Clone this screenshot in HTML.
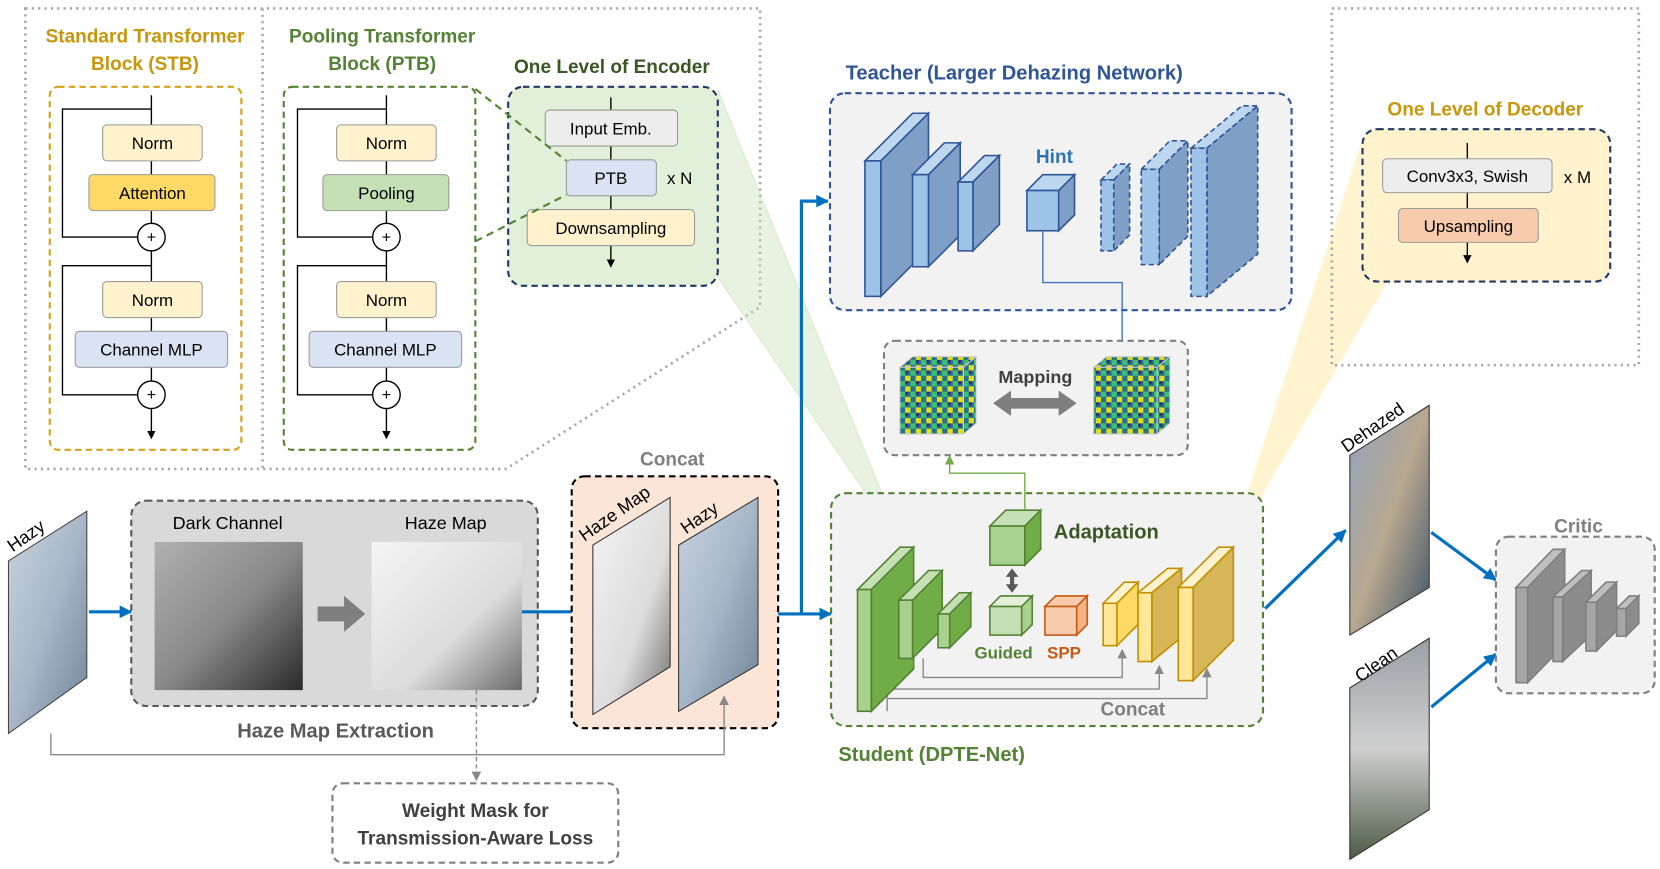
<!DOCTYPE html>
<html><head><meta charset="utf-8"><style>
html,body{margin:0;padding:0;background:#fff;}
svg{display:block;}
text{font-family:"Liberation Sans",sans-serif;}
</style></head><body>
<svg width="1660" height="869" viewBox="0 0 1568 821" preserveAspectRatio="none" xmlns="http://www.w3.org/2000/svg">
<defs>
<marker id="ak" markerWidth="8" markerHeight="8" refX="7" refY="4" orient="auto" markerUnits="userSpaceOnUse"><path d="M0,0 L8,4 L0,8z" fill="#000"/></marker>
<marker id="ab" markerWidth="12" markerHeight="12" refX="11" refY="6" orient="auto" markerUnits="userSpaceOnUse"><path d="M0,0 L12,6 L0,12z" fill="#0070c0"/></marker>
<marker id="ag" markerWidth="9" markerHeight="9" refX="8" refY="4.5" orient="auto" markerUnits="userSpaceOnUse"><path d="M0,0 L9,4.5 L0,9z" fill="#888"/></marker>
<marker id="abl" markerWidth="9" markerHeight="9" refX="8" refY="4.5" orient="auto" markerUnits="userSpaceOnUse"><path d="M0,0 L9,4.5 L0,9z" fill="#4472c4"/></marker>
<marker id="agr" markerWidth="9" markerHeight="9" refX="8" refY="4.5" orient="auto" markerUnits="userSpaceOnUse"><path d="M0,0 L9,4.5 L0,9z" fill="#70ad47"/></marker>
<linearGradient id="hz" x1="0" y1="0" x2="1" y2="1"><stop offset="0" stop-color="#c9d3de"/><stop offset=".5" stop-color="#a7b6c8"/><stop offset="1" stop-color="#6e8296"/></linearGradient>
<linearGradient id="dk" x1="0" y1="0" x2="1" y2="1"><stop offset="0" stop-color="#b0b0b0"/><stop offset=".5" stop-color="#8a8a8a"/><stop offset="1" stop-color="#2a2a2a"/></linearGradient>
<linearGradient id="hm" x1="0" y1="0" x2="1" y2="1"><stop offset="0" stop-color="#f4f4f4"/><stop offset=".6" stop-color="#dcdcdc"/><stop offset="1" stop-color="#6a6a6a"/></linearGradient>
<linearGradient id="dh" x1="0" y1="0" x2="1" y2="1"><stop offset="0" stop-color="#8fa4c0"/><stop offset=".5" stop-color="#b8a890"/><stop offset="1" stop-color="#3b5266"/></linearGradient>
<linearGradient id="cl" x1="0" y1="0" x2="0" y2="1"><stop offset="0" stop-color="#9aa0a6"/><stop offset=".5" stop-color="#d0d0d0"/><stop offset="1" stop-color="#4b5a45"/></linearGradient>
<pattern id="feat" width="10" height="10" patternUnits="userSpaceOnUse"><rect width="10" height="10" fill="#2b6f8e"/><rect width="5" height="5" fill="#3bbf77"/><rect x="5" y="5" width="5" height="5" fill="#d8e020"/><rect x="5" width="3" height="3" fill="#3a2d6e"/></pattern>
</defs>

<path d="M24,8 H718 V290 L478,443 H24 Z" fill="none" stroke="#a6a6a6" stroke-width="2.5" stroke-dasharray="2,4"/>
<line x1="248" y1="8" x2="248" y2="443" stroke="#a6a6a6" stroke-width="2.5" stroke-dasharray="2,4"/>

<text x="137" y="40" font-size="18" font-weight="bold" fill="#c8960a" text-anchor="middle">Standard Transformer</text>
<text x="137" y="66" font-size="18" font-weight="bold" fill="#c8960a" text-anchor="middle">Block (STB)</text>
<rect x="47" y="82" width="181" height="343" rx="8" fill="none" stroke="#d4a017" stroke-width="2" stroke-dasharray="6,4"/>
<g stroke="#000" stroke-width="1.3" fill="none">
<line x1="143" y1="90" x2="143" y2="414" marker-end="url(#ak)"/>
<path d="M143,103 H59 V224 H130"/><path d="M143,251 H59 V373 H130"/>
</g>
<rect x="97" y="118" width="94" height="34" rx="4" fill="#fff2cc" stroke="#999"/>
<text x="144" y="141" font-size="16" text-anchor="middle">Norm</text>
<rect x="84" y="165" width="119" height="34" rx="4" fill="#ffd966" stroke="#999"/>
<text x="144" y="188" font-size="16" text-anchor="middle">Attention</text>
<circle cx="143" cy="224" r="13" fill="#fff" stroke="#000" stroke-width="1.3"/><text x="143" y="229" font-size="15" text-anchor="middle">+</text>
<rect x="97" y="266" width="94" height="34" rx="4" fill="#fff2cc" stroke="#999"/>
<text x="144" y="289" font-size="16" text-anchor="middle">Norm</text>
<rect x="71" y="313" width="144" height="34" rx="4" fill="#dae3f3" stroke="#999"/>
<text x="143" y="336" font-size="16" text-anchor="middle">Channel MLP</text>
<circle cx="143" cy="373" r="13" fill="#fff" stroke="#000" stroke-width="1.3"/><text x="143" y="378" font-size="15" text-anchor="middle">+</text>

<text x="361" y="40" font-size="18" font-weight="bold" fill="#538135" text-anchor="middle">Pooling Transformer</text>
<text x="361" y="66" font-size="18" font-weight="bold" fill="#538135" text-anchor="middle">Block (PTB)</text>
<rect x="268" y="82" width="181" height="343" rx="8" fill="none" stroke="#548235" stroke-width="2" stroke-dasharray="6,4"/>
<g stroke="#000" stroke-width="1.3" fill="none">
<line x1="365" y1="90" x2="365" y2="414" marker-end="url(#ak)"/>
<path d="M365,103 H281 V224 H352"/><path d="M365,251 H281 V373 H352"/>
</g>
<rect x="318" y="118" width="94" height="34" rx="4" fill="#fff2cc" stroke="#999"/>
<text x="365" y="141" font-size="16" text-anchor="middle">Norm</text>
<rect x="305" y="165" width="119" height="34" rx="4" fill="#c5e0b4" stroke="#999"/>
<text x="365" y="188" font-size="16" text-anchor="middle">Pooling</text>
<circle cx="365" cy="224" r="13" fill="#fff" stroke="#000" stroke-width="1.3"/><text x="365" y="229" font-size="15" text-anchor="middle">+</text>
<rect x="318" y="266" width="94" height="34" rx="4" fill="#fff2cc" stroke="#999"/>
<text x="365" y="289" font-size="16" text-anchor="middle">Norm</text>
<rect x="292" y="313" width="144" height="34" rx="4" fill="#dae3f3" stroke="#999"/>
<text x="364" y="336" font-size="16" text-anchor="middle">Channel MLP</text>
<circle cx="365" cy="373" r="13" fill="#fff" stroke="#000" stroke-width="1.3"/><text x="365" y="378" font-size="15" text-anchor="middle">+</text>

<polygon points="678,85 678,262 855,520" fill="#c5e0b4" opacity=".4" stroke="#a9d18e" stroke-width="1.2"/>
<polygon points="1288,130 1310,266 1162,518" fill="#ffe699" opacity=".45" stroke="#ffe699" stroke-width="1.2"/>

<text x="578" y="69" font-size="18" font-weight="bold" fill="#385723" text-anchor="middle">One Level of Encoder</text>
<rect x="480" y="82" width="198" height="188" rx="14" fill="#e2f0d9" stroke="#1f3864" stroke-width="2" stroke-dasharray="6,4"/>
<line x1="577" y1="92" x2="577" y2="252" stroke="#000" stroke-width="1.3" marker-end="url(#ak)"/>
<rect x="515" y="104" width="125" height="34" rx="4" fill="#ededed" stroke="#999"/>
<text x="577" y="127" font-size="16" text-anchor="middle">Input Emb.</text>
<rect x="535" y="151" width="85" height="34" rx="4" fill="#dae3f3" stroke="#999"/>
<text x="577" y="174" font-size="16" text-anchor="middle">PTB</text>
<text x="642" y="174" font-size="16" text-anchor="middle">x N</text>
<rect x="498" y="198" width="158" height="34" rx="4" fill="#fff2cc" stroke="#999"/>
<text x="577" y="221" font-size="16" text-anchor="middle">Downsampling</text>
<line x1="449" y1="84" x2="535" y2="152" stroke="#548235" stroke-width="2" stroke-dasharray="7,5"/>
<line x1="449" y1="228" x2="535" y2="184" stroke="#548235" stroke-width="2" stroke-dasharray="7,5"/>

<text x="958" y="75" font-size="19" font-weight="bold" fill="#2f5597" text-anchor="middle">Teacher (Larger Dehazing Network)</text>
<rect x="784" y="88" width="436" height="205" rx="14" fill="#f2f2f2" stroke="#2f5597" stroke-width="2" stroke-dasharray="6,4"/>
<g stroke="#2f5597" stroke-width="1.5">
<polygon points="817,152 862,107 877,107 832,152" fill="#bdd7ee"/><polygon points="832,152 877,107 877,235 832,280" fill="#7f9fc7"/><rect x="817" y="152" width="15" height="128" fill="#9dc3e6"/>
<polygon points="862,165 892,135 907,135 877,165" fill="#bdd7ee"/><polygon points="877,165 907,135 907,222 877,252" fill="#7f9fc7"/><rect x="862" y="165" width="15" height="87" fill="#9dc3e6"/>
<polygon points="905,172 930,147 944,147 919,172" fill="#bdd7ee"/><polygon points="919,172 944,147 944,212 919,237" fill="#7f9fc7"/><rect x="905" y="172" width="14" height="65" fill="#9dc3e6"/>
<polygon points="970,180 985,165 1015,165 1000,180" fill="#bdd7ee"/><polygon points="1000,180 1015,165 1015,203 1000,218" fill="#7f9fc7"/><rect x="970" y="180" width="30" height="38" fill="#9dc3e6"/>
</g>
<g stroke="#2f5597" stroke-width="1.5" stroke-dasharray="5,3">
<polygon points="1040,170 1055,155 1067,155 1052,170" fill="#bdd7ee"/><polygon points="1052,170 1067,155 1067,222 1052,237" fill="#7f9fc7"/><rect x="1040" y="170" width="12" height="67" fill="#9dc3e6"/>
<polygon points="1078,160 1105,133 1122,133 1095,160" fill="#bdd7ee"/><polygon points="1095,160 1122,133 1122,223 1095,250" fill="#7f9fc7"/><rect x="1078" y="160" width="17" height="90" fill="#9dc3e6"/>
<polygon points="1125,140 1173,100 1188,100 1140,140" fill="#bdd7ee"/><polygon points="1140,140 1188,100 1188,240 1140,280" fill="#7f9fc7"/><rect x="1125" y="140" width="15" height="140" fill="#9dc3e6"/>
</g>
<text x="996" y="154" font-size="18" font-weight="bold" fill="#2f75b6" text-anchor="middle">Hint</text>
<path d="M985,218 V267 H1060 V334" fill="none" stroke="#4472c4" stroke-width="1.3" marker-end="url(#abl)"/>

<rect x="835" y="322" width="287" height="108" rx="10" fill="#f2f2f2" stroke="#7f7f7f" stroke-width="2" stroke-dasharray="6,4"/>
<polygon points="850,347 862,337 922,337 910,347" fill="url(#feat)" stroke="#ccc"/><polygon points="910,347 922,337 922,400 910,410" fill="url(#feat)" stroke="#ccc"/><rect x="850" y="347" width="60" height="63" fill="url(#feat)" stroke="#ccc"/>
<polygon points="1033,347 1045,337 1105,337 1093,347" fill="url(#feat)" stroke="#ccc"/><polygon points="1093,347 1105,337 1105,400 1093,410" fill="url(#feat)" stroke="#ccc"/><rect x="1033" y="347" width="60" height="63" fill="url(#feat)" stroke="#ccc"/>
<text x="978" y="362" font-size="17" font-weight="bold" fill="#404040" text-anchor="middle">Mapping</text>
<polygon points="938,381 955,369 955,376 1000,376 1000,369 1017,381 1000,393 1000,386 955,386 955,393" fill="#7f7f7f"/>

<rect x="1258" y="8" width="290" height="337" fill="none" stroke="#a6a6a6" stroke-width="2.5" stroke-dasharray="2,4"/>
<text x="1403" y="109" font-size="18" font-weight="bold" fill="#c8960a" text-anchor="middle">One Level of Decoder</text>
<rect x="1287" y="122" width="234" height="144" rx="14" fill="#fff2cc" stroke="#1f3864" stroke-width="2" stroke-dasharray="6,4"/>
<line x1="1386" y1="135" x2="1386" y2="248" stroke="#000" stroke-width="1.3" marker-end="url(#ak)"/>
<rect x="1306" y="150" width="160" height="32" rx="4" fill="#ededed" stroke="#999"/>
<text x="1386" y="172" font-size="16" text-anchor="middle">Conv3x3, Swish</text>
<text x="1490" y="173" font-size="16" text-anchor="middle">x M</text>
<rect x="1321" y="197" width="132" height="32" rx="4" fill="#f8cbad" stroke="#999"/>
<text x="1387" y="219" font-size="16" text-anchor="middle">Upsampling</text>

<polygon points="8,530 82,483 82,640 8,693" fill="url(#hz)" stroke="#444"/>
<text x="0" y="0" font-size="17" transform="translate(12,522) rotate(-35)">Hazy</text>
<line x1="84" y1="578" x2="124" y2="578" stroke="#0070c0" stroke-width="3" marker-end="url(#ab)"/>

<rect x="124" y="473" width="384" height="194" rx="14" fill="#d9d9d9" stroke="#595959" stroke-width="2" stroke-dasharray="6,4"/>
<text x="215" y="500" font-size="17" text-anchor="middle">Dark Channel</text>
<rect x="146" y="512" width="140" height="140" fill="url(#dk)"/>
<text x="421" y="500" font-size="17" text-anchor="middle">Haze Map</text>
<rect x="351" y="512" width="142" height="140" fill="url(#hm)"/>
<polygon points="300,573 325,573 325,563 345,580 325,597 325,587 300,587" fill="#7f7f7f"/>
<text x="317" y="697" font-size="19" font-weight="bold" fill="#595959" text-anchor="middle">Haze Map Extraction</text>
<line x1="493" y1="578" x2="557" y2="578" stroke="#0070c0" stroke-width="3" marker-end="url(#ab)"/>

<text x="635" y="440" font-size="18" font-weight="bold" fill="#7f7f7f" text-anchor="middle">Concat</text>
<rect x="540" y="450" width="195" height="238" rx="12" fill="#fbe5d6" stroke="#000" stroke-width="2" stroke-dasharray="6,4"/>
<polygon points="560,515 633,470 633,630 560,675" fill="url(#hm)" stroke="#333"/>
<polygon points="641,515 716,470 716,628 641,672" fill="url(#hz)" stroke="#333"/>
<text font-size="17" transform="translate(552,512) rotate(-35)">Haze Map</text>
<text font-size="17" transform="translate(648,505) rotate(-35)">Hazy</text>

<path d="M48,693 V713 H684 V658" fill="none" stroke="#888" stroke-width="1.3" marker-end="url(#ag)"/>
<line x1="450" y1="652" x2="450" y2="737" stroke="#888" stroke-width="1.3" stroke-dasharray="4,3" marker-end="url(#ag)"/>
<rect x="314" y="740" width="270" height="75" rx="10" fill="#fff" stroke="#7f7f7f" stroke-width="2" stroke-dasharray="6,4"/>
<text x="449" y="772" font-size="18" font-weight="bold" fill="#404040" text-anchor="middle">Weight Mask for</text>
<text x="449" y="798" font-size="18" font-weight="bold" fill="#404040" text-anchor="middle">Transmission-Aware Loss</text>

<path d="M735,580 H757 V190 H782" fill="none" stroke="#0070c0" stroke-width="3" marker-end="url(#ab)"/>
<line x1="757" y1="580" x2="785" y2="580" stroke="#0070c0" stroke-width="3" marker-end="url(#ab)"/>

<rect x="785" y="466" width="408" height="220" rx="14" fill="#f2f2f2" stroke="#548235" stroke-width="2" stroke-dasharray="6,4"/>
<text x="880" y="719" font-size="19" font-weight="bold" fill="#548235" text-anchor="middle">Student (DPTE-Net)</text>
<g fill="none" stroke="#888" stroke-width="1.3">
<path d="M872,622 V640 H1060 V614" marker-end="url(#ag)"/>
<path d="M838,672 V651 H1095 V629" marker-end="url(#ag)"/>
<path d="M838,660 H1140 V632" marker-end="url(#ag)"/>
</g>
<text x="1070" y="676" font-size="18" font-weight="bold" fill="#7f7f7f" text-anchor="middle">Concat</text>
<g stroke="#548235" stroke-width="1.5">
<polygon points="810,557 850,517 863,517 823,557" fill="#c5e0b4"/><polygon points="823,557 863,517 863,632 823,672" fill="#70ad47"/><rect x="810" y="557" width="13" height="115" fill="#a9d18e"/>
<polygon points="849,567 877,539 890,539 862,567" fill="#c5e0b4"/><polygon points="862,567 890,539 890,594 862,622" fill="#70ad47"/><rect x="849" y="567" width="13" height="55" fill="#a9d18e"/>
<polygon points="886,580 906,560 917,560 897,580" fill="#c5e0b4"/><polygon points="897,580 917,560 917,592 897,612" fill="#70ad47"/><rect x="886" y="580" width="11" height="32" fill="#a9d18e"/>
<polygon points="935,497 950,482 983,482 968,497" fill="#c5e0b4"/><polygon points="968,497 983,482 983,519 968,534" fill="#70ad47"/><rect x="935" y="497" width="33" height="37" fill="#a9d18e"/>
<polygon points="935,573 945,563 975,563 965,573" fill="#e2f0d9"/><polygon points="965,573 975,563 975,590 965,600" fill="#a9d18e"/><rect x="935" y="573" width="30" height="27" fill="#c5e0b4"/>
</g>
<g stroke="#c55a11" stroke-width="1.5">
<polygon points="987,573 997,563 1027,563 1017,573" fill="#f8cbad"/><polygon points="1017,573 1027,563 1027,590 1017,600" fill="#f4b183"/><rect x="987" y="573" width="30" height="27" fill="#f8cbad"/>
</g>
<g stroke="#bf9000" stroke-width="1.5">
<polygon points="1042,570 1062,550 1075,550 1055,570" fill="#fff2cc"/><polygon points="1055,570 1075,550 1075,590 1055,610" fill="#ffd966"/><rect x="1042" y="570" width="13" height="40" fill="#ffe699"/>
<polygon points="1075,560 1103,537 1116,537 1088,560" fill="#fff2cc"/><polygon points="1088,560 1116,537 1116,602 1088,625" fill="#d6b656"/><rect x="1075" y="560" width="13" height="65" fill="#ffe699"/>
<polygon points="1113,555 1151,517 1165,517 1127,555" fill="#fff2cc"/><polygon points="1127,555 1165,517 1165,605 1127,643" fill="#d6b656"/><rect x="1113" y="555" width="14" height="88" fill="#ffe699"/>
</g>
<text x="1045" y="509" font-size="19" font-weight="bold" fill="#385723" text-anchor="middle">Adaptation</text>
<text x="948" y="622" font-size="16" font-weight="bold" fill="#548235" text-anchor="middle">Guided</text>
<text x="1005" y="622" font-size="16" font-weight="bold" fill="#c55a11" text-anchor="middle">SPP</text>
<polygon points="956,537 962,545 958,545 958,552 962,552 956,560 950,552 954,552 954,545 950,545" fill="#595959"/>
<path d="M968,481 V447 H897 V431" fill="none" stroke="#70ad47" stroke-width="1.3" marker-end="url(#agr)"/>

<line x1="1195" y1="575" x2="1271" y2="501" stroke="#0070c0" stroke-width="3" marker-end="url(#ab)"/>
<polygon points="1275,430 1350,383 1350,555 1275,600" fill="url(#dh)" stroke="#333"/>
<text font-size="17" transform="translate(1272,428) rotate(-35)">Dehazed</text>
<polygon points="1275,650 1350,603 1350,765 1275,812" fill="url(#cl)" stroke="#333"/>
<text font-size="17" transform="translate(1285,645) rotate(-35)">Clean</text>
<line x1="1352" y1="503" x2="1413" y2="548" stroke="#0070c0" stroke-width="3" marker-end="url(#ab)"/>
<line x1="1352" y1="668" x2="1413" y2="618" stroke="#0070c0" stroke-width="3" marker-end="url(#ab)"/>

<text x="1491" y="503" font-size="18" font-weight="bold" fill="#7f7f7f" text-anchor="middle">Critic</text>
<rect x="1413" y="507" width="150" height="148" rx="12" fill="#f2f2f2" stroke="#7f7f7f" stroke-width="2" stroke-dasharray="6,4"/>
<g stroke="#7f7f7f" stroke-width="1.5">
<polygon points="1432,555 1467,519 1478,519 1443,555" fill="#bfbfbf"/><polygon points="1443,555 1478,519 1478,609 1443,645" fill="#8c8c8c"/><rect x="1432" y="555" width="11" height="90" fill="#a6a6a6"/>
<polygon points="1467,564 1494,539 1503,539 1476,564" fill="#bfbfbf"/><polygon points="1476,564 1503,539 1503,600 1476,625" fill="#8c8c8c"/><rect x="1467" y="564" width="9" height="61" fill="#a6a6a6"/>
<polygon points="1498,569 1517,550 1527,550 1508,569" fill="#bfbfbf"/><polygon points="1508,569 1527,550 1527,596 1508,615" fill="#8c8c8c"/><rect x="1498" y="569" width="10" height="46" fill="#a6a6a6"/>
<polygon points="1527,575 1539,563 1548,563 1536,575" fill="#bfbfbf"/><polygon points="1536,575 1548,563 1548,589 1536,601" fill="#8c8c8c"/><rect x="1527" y="575" width="9" height="26" fill="#a6a6a6"/>
</g>
</svg>
</body></html>
